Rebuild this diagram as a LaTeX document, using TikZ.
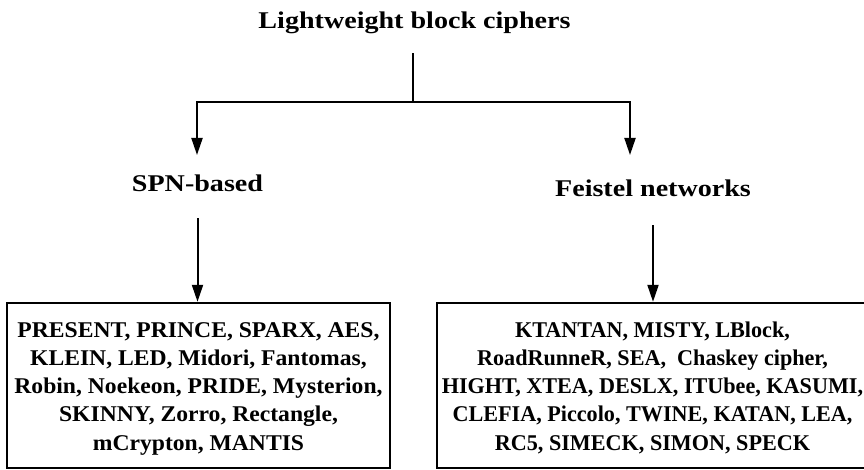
\documentclass[tikz,border=0pt]{standalone}
\usepackage{fontspec}
\setmainfont{Liberation Serif}
\usetikzlibrary{arrows.meta}
% struts that even out the first and last line of a list box
\newcommand\topstrut{\rule{0pt}{22pt}}
\newcommand\botstrut{\rule[-6pt]{0pt}{6pt}}
\begin{document}
\begin{tikzpicture}[x=1pt,y=-1pt,
  conn/.style={line width=2pt},
  arr/.style={conn,-{Triangle[length=17pt,width=11pt]}},
  lbl/.style={font=\bfseries\fontsize{24}{28}\selectfont\addfontfeature{FakeStretch=1.17},
    anchor=base, inner sep=0pt},
  listbox/.style={draw, line width=2.4pt, minimum height=165pt, align=center,
    font=\bfseries\fontsize{22.5}{28.25}\selectfont\addfontfeature{FakeStretch=1.05},
    inner sep=0pt},
  widelist/.style={listbox,
    font=\bfseries\fontsize{22.5}{28.25}\selectfont\addfontfeature{FakeStretch=0.985}}]
\useasboundingbox (0,0) rectangle (864,470);

% labels
\node[lbl] (title) at (414.5,29) {Lightweight block ciphers};
\node[lbl] (spn)   at (197.5,192) {SPN-based};
\node[lbl] (feis)  at (653,197) {Feistel networks};

% cipher lists
\node[listbox, minimum width=383pt] (lbox) at (198.5,385.5)
  {\topstrut PRESENT, PRINCE, SPARX, AES,\\
   KLEIN, LED, Midori, Fantomas,\\
   Robin, Noekeon, PRIDE, Mysterion,\\
   SKINNY, Zorro, Rectangle,\\
   mCrypton, MANTIS\botstrut};
\node[widelist, minimum width=431pt] (rbox) at (652.5,385.5)
  {\topstrut KTANTAN, MISTY, LBlock,\\
   RoadRunneR, SEA,\ \ Chaskey cipher,\\
   HIGHT, XTEA, DESLX, ITUbee, KASUMI,\\
   CLEFIA, Piccolo, TWINE, KATAN, LEA,\\
   RC5, SIMECK, SIMON, SPECK\botstrut};

% branching connectors
\coordinate (split) at (413,102);
\coordinate (tipl) at (197,155);
\coordinate (tipr) at (630,155);
\draw[conn] ([yshift=-19pt]title.south -| split) -- (split);
\draw[arr] (split) -| (tipl);
\draw[arr] (split) -| (tipr);
\draw[arr] ([yshift=-26pt]spn.south) -- (spn.south |- lbox.north);
\draw[arr] ([yshift=-28pt]feis.south) -- (feis.south |- rbox.north);
\end{tikzpicture}
\end{document}
